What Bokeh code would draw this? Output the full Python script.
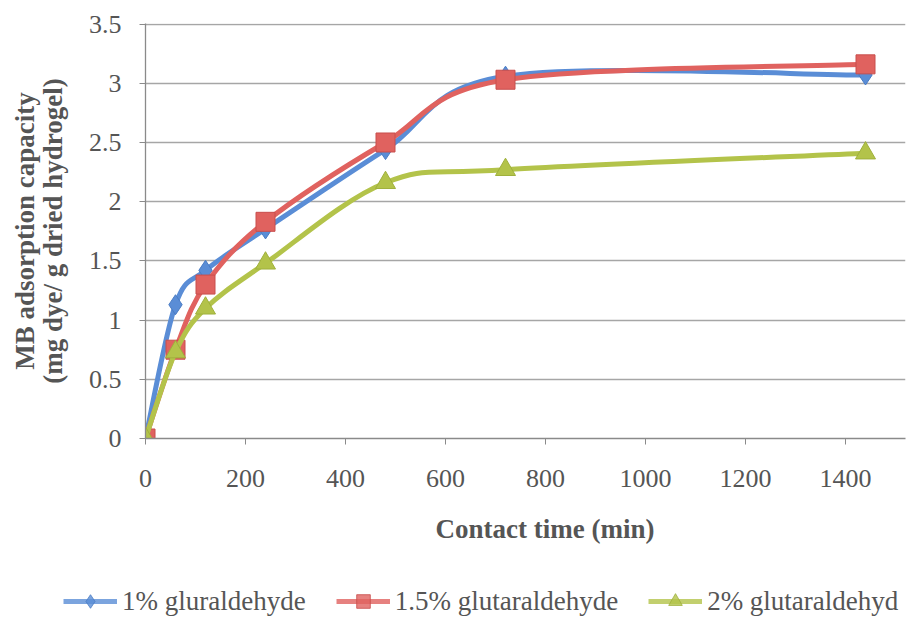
import numpy as np
from bokeh.plotting import figure
from bokeh.layouts import column
from bokeh.models import (ColumnDataSource, FixedTicker, NumeralTickFormatter, Legend,
                          LegendItem, Title, Range1d)
from bokeh.embed import file_html
from bokeh.resources import INLINE

# ---- data ----
time_min = [0, 60, 120, 240, 480, 720, 1440]
glut_1 = [0.0, 1.13, 1.42, 1.77, 2.44, 3.06, 3.07]
glut_15 = [0.0, 0.75, 1.30, 1.83, 2.50, 3.03, 3.16]
glut_2 = [0.0, 0.73, 1.10, 1.48, 2.16, 2.27, 2.41]
series_names = ["1% gluraldehyde", "1.5% glutaraldehyde", "2% glutaraldehyd"]
x_ticks = [0, 200, 400, 600, 800, 1000, 1200, 1400]
y_ticks = [0, 0.5, 1, 1.5, 2, 2.5, 3, 3.5]

colors = ["#5a8dd6", "#e0625f", "#b3c34a"]
edge_colors = ["#4a7cc4", "#c84e4c", "#9fb03c"]
markers = ["diamond", "square", "triangle"]
msizes = [20, 19, 20]

FONT = "Liberation Serif"
TXT = "#555555"

p = figure(width=908, height=583, output_backend="svg", toolbar_location=None,
           x_range=Range1d(0, 1520), y_range=Range1d(0, 3.505),
           min_border_left=145, min_border_right=3, min_border_top=23,
           min_border_bottom=145)
p.frame_align = False
p.outline_line_color = None
p.background_fill_color = "white"
p.border_fill_color = "white"

# axes
p.xaxis.ticker = FixedTicker(ticks=x_ticks)
p.yaxis.ticker = FixedTicker(ticks=y_ticks)
p.yaxis.formatter = NumeralTickFormatter(format="0.[0]")
for ax in (p.xaxis[0], p.yaxis[0]):
    ax.major_label_text_font = FONT
    ax.major_label_text_font_size = "26px"
    ax.major_label_text_color = TXT
    ax.axis_line_color = "#8a8a8a"
    ax.axis_line_width = 1.3
    ax.major_tick_line_color = "#8a8a8a"
    ax.major_tick_out = 6
    ax.major_tick_in = 0
    ax.minor_tick_line_color = None
p.xaxis.major_label_standoff = 25
p.yaxis.major_label_standoff = 18

p.yaxis.axis_label = "MB adsorption capacity\n(mg dye/ g dried hydrogel)"
p.yaxis.axis_label_text_font = FONT
p.yaxis.axis_label_text_font_style = "bold"
p.yaxis.axis_label_text_font_size = "27px"
p.yaxis.axis_label_text_line_height = 0.95
p.yaxis.axis_label_text_color = TXT
p.yaxis.axis_label_standoff = 18

p.xgrid.grid_line_color = None
p.ygrid.grid_line_color = "#a6a6a6"
p.ygrid.grid_line_width = 1.3

# x-axis title (centred on the full Excel plot area, which is cropped on the right)
xtitle = Title(text="Contact time (min)", align="left", offset=290,
               text_font=FONT, text_font_style="bold", text_font_size="27px",
               text_color=TXT, standoff=44)
p.add_layout(xtitle, "below")


def smooth_controls(xs, ys):
    """Bezier control points for an Excel-style smoothed line through the data."""
    xs = np.asarray(xs, float)
    ys = np.asarray(ys, float)
    n = len(xs)
    px = np.concatenate([[xs[0]], xs, [xs[-1]]])
    py = np.concatenate([[ys[0]], ys, [ys[-1]]])
    x0, y0 = xs[:-1], ys[:-1]
    x1, y1 = xs[1:], ys[1:]
    cx0 = px[1:n] + (px[2:n + 1] - px[0:n - 1]) / 6
    cy0 = py[1:n] + (py[2:n + 1] - py[0:n - 1]) / 6
    cx1 = px[2:n + 1] - (px[3:n + 2] - px[1:n]) / 6
    cy1 = py[2:n + 1] - (py[3:n + 2] - py[1:n]) / 6
    return dict(x0=x0, y0=y0, x1=x1, y1=y1, cx0=cx0, cy0=cy0, cx1=cx1, cy1=cy1)


# ---- legend strip (separate figure so nothing is clipped) ----
# its ranges lie outside the data, so only the legend samples are visible
leg = figure(width=908, height=36, output_backend="svg", toolbar_location=None,
             x_axis_location=None, y_axis_location=None,
             min_border_left=0, min_border_right=0, min_border_top=0,
             min_border_bottom=0, x_range=Range1d(5000, 5001),
             y_range=Range1d(50, 51))
leg.frame_align = False
leg.outline_line_color = None
leg.xgrid.grid_line_color = None
leg.ygrid.grid_line_color = None

items = []
for name, ys, c, ec, m, ms in zip(series_names, [glut_1, glut_15, glut_2],
                                   colors, edge_colors, markers, msizes):
    bsrc = ColumnDataSource(smooth_controls(time_min, ys))
    p.bezier(x0="x0", y0="y0", x1="x1", y1="y1", cx0="cx0", cy0="cy0",
             cx1="cx1", cy1="cy1", source=bsrc, line_color=c, line_width=5)
    src = ColumnDataSource(dict(x=time_min, y=ys))
    p.scatter(x="x", y="y", source=src, marker=m, size=ms, fill_color=c,
              line_color=ec, line_width=1)
    # legend samples: same series, drawn outside the strip's visible ranges
    lr = leg.line(x="x", y="y", source=src, line_color=c, line_width=5, alpha=0.8)
    sr = leg.scatter(x="x", y="y", source=src, marker=m, fill_color=c,
                     line_color=ec, line_width=1, alpha=0.8)
    items.append(LegendItem(label=name, renderers=[lr, sr]))

legend = Legend(items=items, orientation="horizontal", location=(63, 1),
                label_text_font=FONT, label_text_font_size="27px",
                label_text_color=TXT, glyph_width=54, glyph_height=34,
                label_standoff=5, spacing=30, padding=0, margin=0,
                border_line_color=None, background_fill_alpha=0)
leg.add_layout(legend, "center")

layout = column(p, leg, spacing=0)
open("out.html", "w").write(file_html(layout, INLINE))
